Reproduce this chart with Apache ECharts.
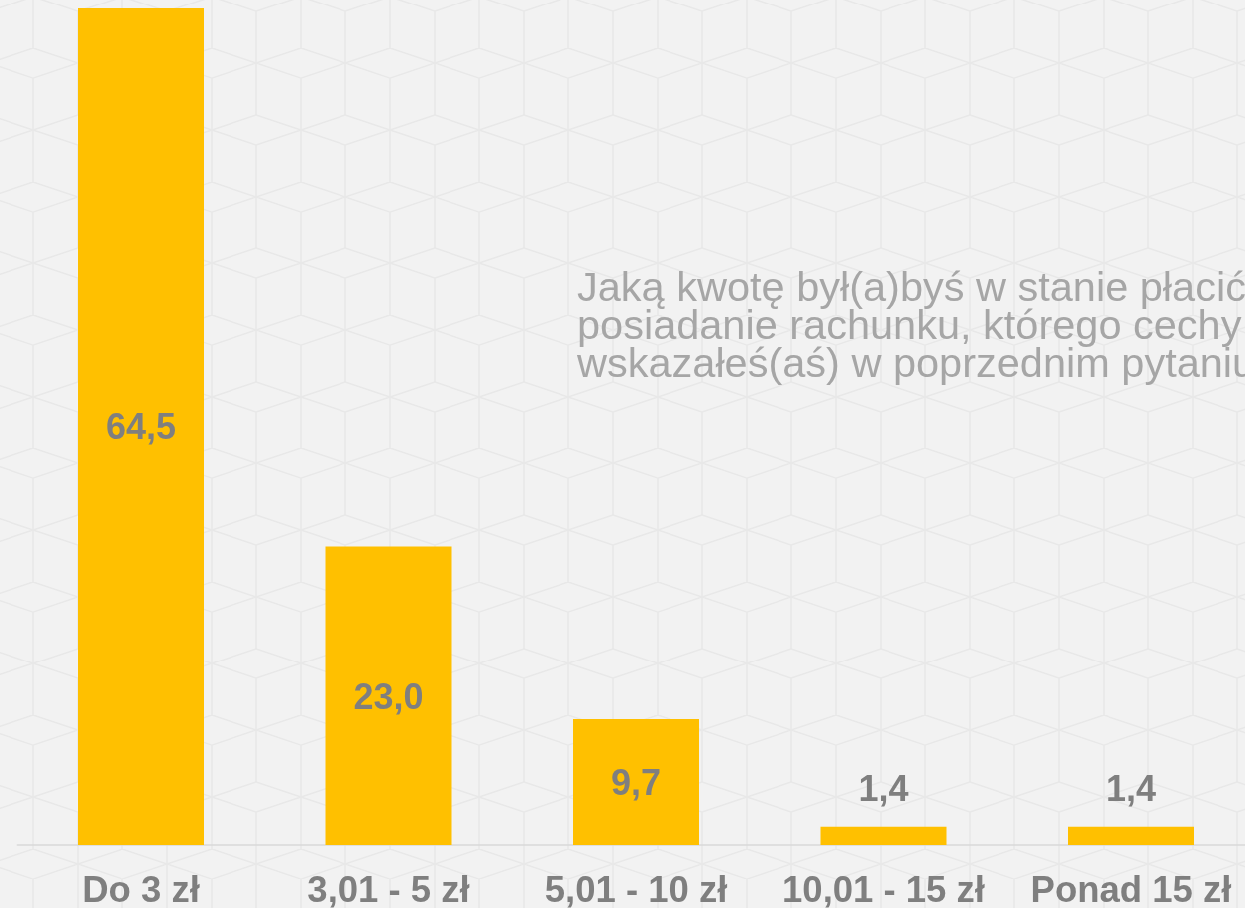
<!DOCTYPE html>
<html>
<head>
<meta charset="utf-8">
<script src="https://cdn.jsdelivr.net/npm/echarts@6/dist/echarts.min.js"></script>
<style>
html, body { margin: 0; padding: 0; overflow: hidden; }
#chart { width: 1245px; height: 908px; background-color: #f2f2f2; }
</style>
</head>
<body>
<div id="chart"></div>
<script>
// ---- data ----
const categories = ['Do 3 zł', '3,01 - 5 zł', '5,01 - 10 zł', '10,01 - 15 zł', 'Ponad 15 zł'];
const values = [64.5, 23.0, 9.7, 1.4, 1.4];
const labelPlacement = ['inside', 'inside', 'inside', 'top', 'top'];
const titleLines = [
  'Jaką kwotę był(a)byś w stanie płacić za',
  'posiadanie rachunku, którego cechy',
  'wskazałeś(aś) w poprzednim pytaniu?'
];

// ---- background cube pattern ----
(function () {
  const W = 89.2, d = 15, P = 66.7, H = 133.4, h = W / 2;
  const segs = [
    [h,0,0,d],[h,0,W,d],[0,d,h,2*d],[W,d,h,2*d],
    [0,0,0,P],[0,P+2*d,0,H],[W,0,W,P],[W,P+2*d,W,H],
    [h,2*d,h,H],
    [0,P,h,P+d],[W,P,h,P+d],[h,P+d,W,P+2*d],[h,P+d,0,P+2*d]
  ];
  const path = segs.map(s => `M${s[0]},${s[1]}L${s[2]},${s[3]}`).join('');
  const svg = `<svg xmlns="http://www.w3.org/2000/svg" width="${W}" height="${H}"><path d="${path}" stroke="#e8e8e8" stroke-width="1.5" fill="none"/></svg>`;
  const el = document.getElementById('chart');
  el.style.backgroundImage = `url("data:image/svg+xml;utf8,${encodeURIComponent(svg)}")`;
  el.style.backgroundPosition = `${33.3 - h}px 48.3px`;
  el.style.backgroundSize = `${W}px ${H}px`;
})();

const fmt = v => v.toFixed(1).replace('.', ',');

const chart = echarts.init(document.getElementById('chart'), null, { renderer: 'canvas' });
chart.setOption({
  backgroundColor: 'transparent',
  animation: false,
  textStyle: { fontFamily: 'Liberation Sans, Arial, sans-serif' },
  grid: {
    left: 17.25, width: 1237.5, top: 1.5, height: 843.5,
    containLabel: false, outerBoundsMode: 'none'
  },
  xAxis: {
    type: 'category',
    data: categories,
    axisLine: { show: true, lineStyle: { color: '#d9d9d9', width: 1.5 } },
    axisTick: { show: false },
    axisLabel: {
      color: '#7f7f7f', fontSize: 36.5, fontWeight: 'bold', margin: 28,
      interval: 0, hideOverlap: false,
      fontFamily: 'Liberation Sans, Arial, sans-serif'
    },
    splitLine: { show: false }
  },
  yAxis: {
    type: 'value', min: 0, max: 65, show: false,
    splitLine: { show: false }
  },
  graphic: [{
    type: 'text',
    left: 577, top: 269,
    style: {
      text: titleLines.join('\n'),
      fill: '#a6a6a6',
      font: '41.5px "Liberation Sans", Arial, sans-serif',
      lineHeight: 38
    },
    silent: true
  }],
  series: [{
    type: 'bar',
    barWidth: 126,
    data: values.map((v, i) => ({
      value: v,
      label: { position: labelPlacement[i], distance: labelPlacement[i] === 'top' ? 21 : 5 }
    })),
    itemStyle: { color: '#ffc000' },
    label: {
      show: true,
      formatter: p => fmt(p.value),
      offset: [0, 3],
      color: '#7f7f7f', fontSize: 36, fontWeight: 'bold',
      fontFamily: 'Liberation Sans, Arial, sans-serif'
    }
  }]
});
</script>
</body>
</html>
